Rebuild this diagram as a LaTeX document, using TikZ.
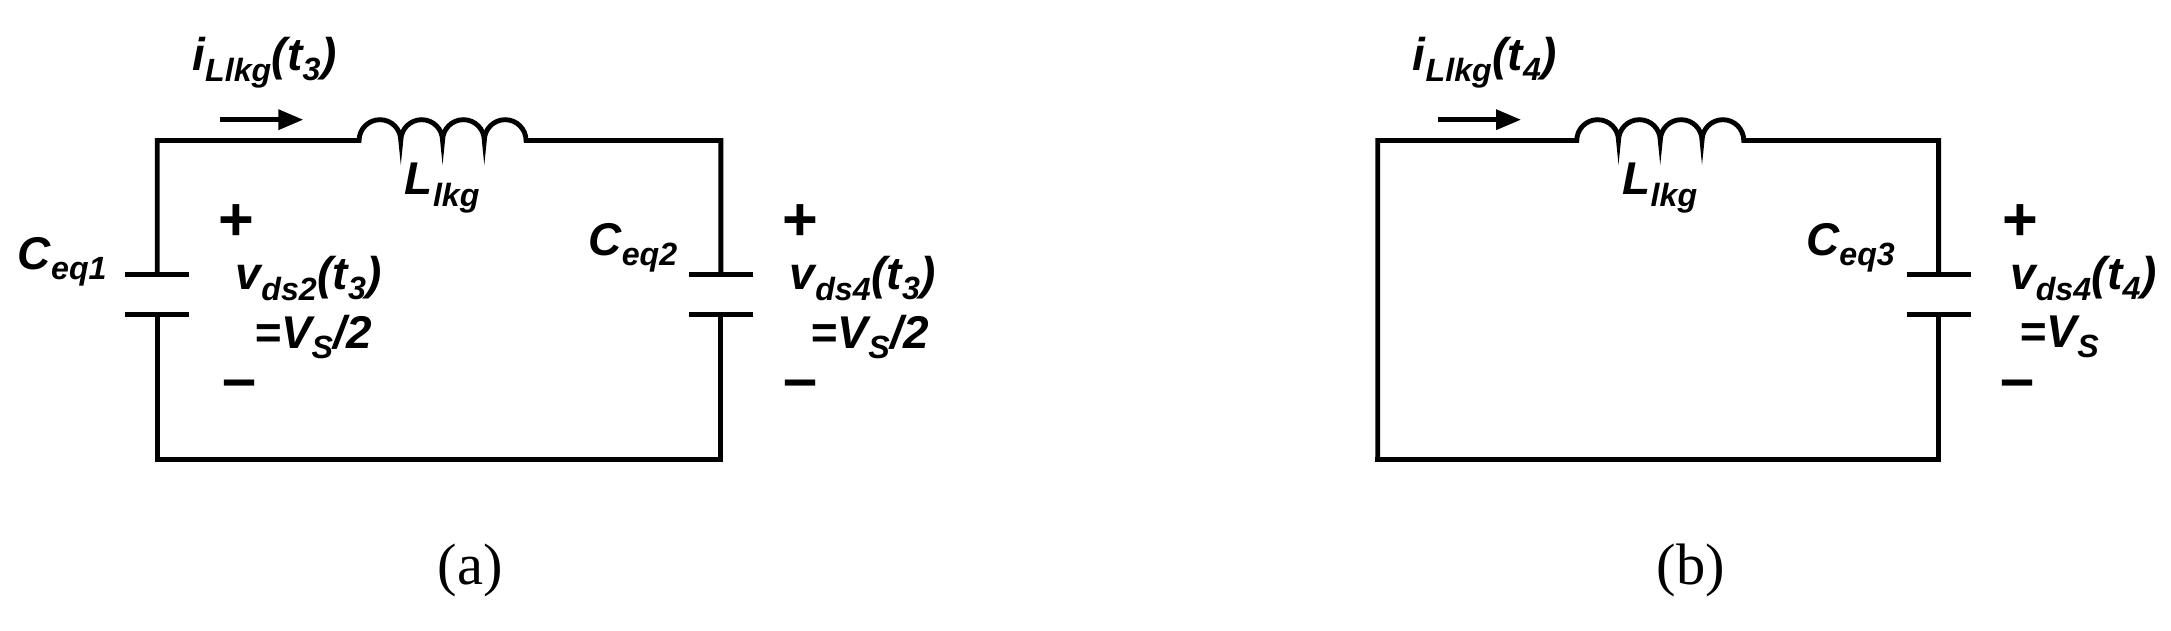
\documentclass[tikz,border=0pt]{standalone}
\usepackage{fontspec}
\setmainfont{Liberation Serif}
\newfontfamily\lab{Liberation Sans}
\usetikzlibrary{arrows.meta}
\begin{document}
\begin{tikzpicture}[x=1pt,y=-1pt,
  wire/.style={line width=3.5pt,line cap=rect},
  lbl/.style={font=\lab\bfseries\itshape\fontsize{33}{33}\selectfont,inner sep=0pt},
  pm/.style={font=\lab\bfseries\fontsize{44}{44}\selectfont,inner sep=0pt},
  subcap/.style={font=\fontsize{42}{42}\selectfont,inner sep=0pt},
  arr/.style={line width=3.5pt,-{Triangle[length=18pt,width=14pt]}}]
\useasboundingbox (0,0) rectangle (1560,453);
% (a)
\coordinate (a1) at (113,101); \coordinate (a2) at (258,101);
\coordinate (a4) at (518,101);
\coordinate (a5) at (518,330); \coordinate (a6) at (113,330);
\draw[wire] (113,197) -- (a1) -- (a2) arc(180:360:15) arc(180:360:15) arc(180:360:15) arc(180:360:15) -- (a4) -- (518,197);
\draw[wire] (518,226) -- (a5) -- (a6) -- (113,226);
\draw[wire,line cap=butt] (90,197) -- (136,197) (90,226) -- (136,226);
\draw[wire,line cap=butt] (495,197) -- (541,197) (495,226) -- (541,226);
\coordinate (ia1) at (158,86); \coordinate (ia2) at (218,86);
\draw[arr] (ia1) -- (ia2);
\node[lbl] at (190,45) {i\textsubscript{Llkg}(t\textsubscript{3})};
\node[lbl] at (318,135) {L\textsubscript{lkg}};
\node[lbl] at (45,188) {C\textsubscript{eq1}};
\node[pm] at (170,160) {+};
\node[lbl] at (222,200) {v\textsubscript{ds2}(t\textsubscript{3})};
\node[lbl] at (225,242) {=V\textsubscript{S}/2};
\node[pm] at (172,280) {–};
\node[lbl] at (455,178) {C\textsubscript{eq2}};
\node[pm] at (575,160) {+};
\node[lbl] at (620,200) {v\textsubscript{ds4}(t\textsubscript{3})};
\node[lbl] at (625,242) {=V\textsubscript{S}/2};
\node[pm] at (575,280) {–};
\node[subcap] at (338,410) {(a)};
% (b)
\coordinate (b1) at (990,101); \coordinate (b2) at (1133,101);
\coordinate (b4) at (1393,101); \coordinate (b5) at (1393,330); \coordinate (b6) at (990,330);
\draw[wire] (b6) -- (b1) -- (b2) arc(180:360:15) arc(180:360:15) arc(180:360:15) arc(180:360:15) -- (b4) -- (1393,197);
\draw[wire] (1393,226) -- (b5) -- (b6);
\draw[wire,line cap=butt] (1370,197) -- (1416,197) (1370,226) -- (1416,226);
\coordinate (ib1) at (1033,86); \coordinate (ib2) at (1093,86);
\draw[arr] (ib1) -- (ib2);
\node[lbl] at (1067,45) {i\textsubscript{Llkg}(t\textsubscript{4})};
\node[lbl] at (1193,135) {L\textsubscript{lkg}};
\node[lbl] at (1330,178) {C\textsubscript{eq3}};
\node[pm] at (1452,160) {+};
\node[lbl] at (1497,200) {v\textsubscript{ds4}(t\textsubscript{4})};
\node[lbl] at (1480,242) {=V\textsubscript{S}};
\node[pm] at (1450,280) {–};
\node[subcap] at (1215,410) {(b)};
\end{tikzpicture}
\end{document}
